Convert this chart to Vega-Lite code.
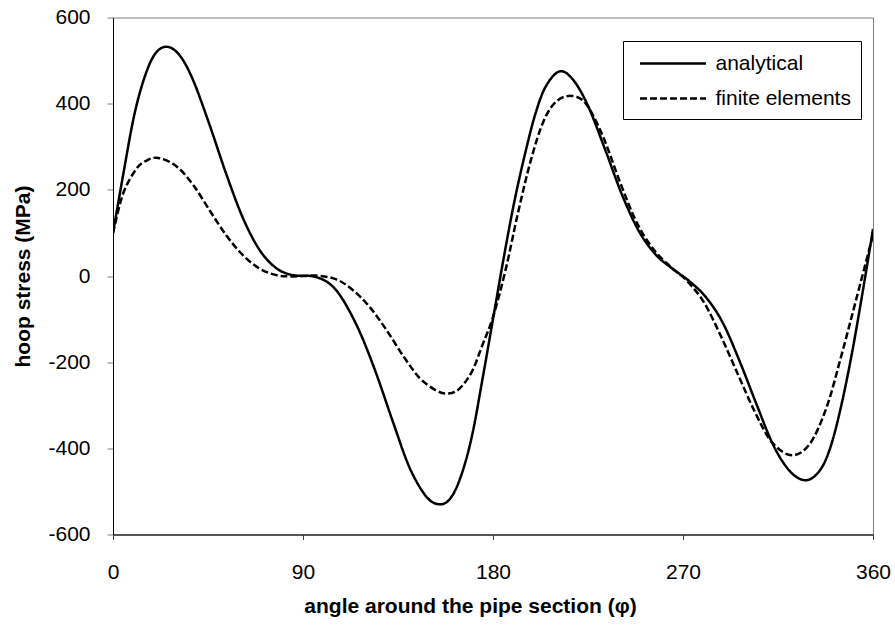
{
  "$schema": "https://vega.github.io/schema/vega-lite/v6.json",
  "width": 760,
  "height": 517,
  "autosize": "none",
  "padding": {"left": 113, "top": 17.5, "right": 22, "bottom": 91.5},
  "background": "white",
  "config": {
    "font": "Liberation Sans",
    "view": {"stroke": "#808080", "strokeWidth": 1}
  },
  "data": {
    "values": [
      {"angle": 0, "stress": 100, "series": "analytical"},
      {"angle": 5, "stress": 240, "series": "analytical"},
      {"angle": 10, "stress": 372, "series": "analytical"},
      {"angle": 15, "stress": 462, "series": "analytical"},
      {"angle": 20, "stress": 516, "series": "analytical"},
      {"angle": 25.6, "stress": 532, "series": "analytical"},
      {"angle": 31.6, "stress": 512, "series": "analytical"},
      {"angle": 37.9, "stress": 455, "series": "analytical"},
      {"angle": 45.8, "stress": 350, "series": "analytical"},
      {"angle": 53.7, "stress": 236, "series": "analytical"},
      {"angle": 61.6, "stress": 134, "series": "analytical"},
      {"angle": 69.5, "stress": 60, "series": "analytical"},
      {"angle": 77.4, "stress": 18, "series": "analytical"},
      {"angle": 85.3, "stress": 2, "series": "analytical"},
      {"angle": 95, "stress": -1, "series": "analytical"},
      {"angle": 102.6, "stress": -18, "series": "analytical"},
      {"angle": 108.9, "stress": -55, "series": "analytical"},
      {"angle": 116.9, "stress": -130, "series": "analytical"},
      {"angle": 124.8, "stress": -228, "series": "analytical"},
      {"angle": 132.7, "stress": -340, "series": "analytical"},
      {"angle": 140.5, "stress": -445, "series": "analytical"},
      {"angle": 148.4, "stress": -512, "series": "analytical"},
      {"angle": 154.7, "stress": -530, "series": "analytical"},
      {"angle": 160, "stress": -515, "series": "analytical"},
      {"angle": 165, "stress": -462, "series": "analytical"},
      {"angle": 170, "stress": -372, "series": "analytical"},
      {"angle": 175, "stress": -240, "series": "analytical"},
      {"angle": 180, "stress": -100, "series": "analytical"},
      {"angle": 185, "stress": 40, "series": "analytical"},
      {"angle": 190, "stress": 170, "series": "analytical"},
      {"angle": 195, "stress": 280, "series": "analytical"},
      {"angle": 200, "stress": 375, "series": "analytical"},
      {"angle": 205, "stress": 440, "series": "analytical"},
      {"angle": 211.6, "stress": 475, "series": "analytical"},
      {"angle": 218, "stress": 455, "series": "analytical"},
      {"angle": 225, "stress": 395, "series": "analytical"},
      {"angle": 233, "stress": 295, "series": "analytical"},
      {"angle": 241, "stress": 190, "series": "analytical"},
      {"angle": 249, "stress": 105, "series": "analytical"},
      {"angle": 257, "stress": 50, "series": "analytical"},
      {"angle": 265, "stress": 17, "series": "analytical"},
      {"angle": 273, "stress": -12, "series": "analytical"},
      {"angle": 281, "stress": -50, "series": "analytical"},
      {"angle": 289, "stress": -110, "series": "analytical"},
      {"angle": 297, "stress": -200, "series": "analytical"},
      {"angle": 305, "stress": -300, "series": "analytical"},
      {"angle": 313, "stress": -395, "series": "analytical"},
      {"angle": 321, "stress": -455, "series": "analytical"},
      {"angle": 328.5, "stress": -474, "series": "analytical"},
      {"angle": 335, "stress": -450, "series": "analytical"},
      {"angle": 340, "stress": -395, "series": "analytical"},
      {"angle": 345, "stress": -300, "series": "analytical"},
      {"angle": 350, "stress": -180, "series": "analytical"},
      {"angle": 355, "stress": -40, "series": "analytical"},
      {"angle": 360, "stress": 109, "series": "analytical"},

      {"angle": 0, "stress": 99, "series": "finite elements"},
      {"angle": 4.7, "stress": 190, "series": "finite elements"},
      {"angle": 11.1, "stress": 249, "series": "finite elements"},
      {"angle": 16, "stress": 268, "series": "finite elements"},
      {"angle": 21.5, "stress": 274, "series": "finite elements"},
      {"angle": 30, "stress": 255, "series": "finite elements"},
      {"angle": 37.9, "stress": 212, "series": "finite elements"},
      {"angle": 45.8, "stress": 152, "series": "finite elements"},
      {"angle": 53.7, "stress": 94, "series": "finite elements"},
      {"angle": 61.6, "stress": 48, "series": "finite elements"},
      {"angle": 69.5, "stress": 17, "series": "finite elements"},
      {"angle": 77.4, "stress": 2, "series": "finite elements"},
      {"angle": 85.3, "stress": -1, "series": "finite elements"},
      {"angle": 96.3, "stress": 1, "series": "finite elements"},
      {"angle": 105.8, "stress": -8, "series": "finite elements"},
      {"angle": 113.7, "stress": -33, "series": "finite elements"},
      {"angle": 121.6, "stress": -72, "series": "finite elements"},
      {"angle": 129.5, "stress": -125, "series": "finite elements"},
      {"angle": 137.4, "stress": -185, "series": "finite elements"},
      {"angle": 145.3, "stress": -237, "series": "finite elements"},
      {"angle": 153.2, "stress": -266, "series": "finite elements"},
      {"angle": 158.7, "stress": -273, "series": "finite elements"},
      {"angle": 164, "stress": -262, "series": "finite elements"},
      {"angle": 170, "stress": -222, "series": "finite elements"},
      {"angle": 175, "stress": -160, "series": "finite elements"},
      {"angle": 180, "stress": -95, "series": "finite elements"},
      {"angle": 186, "stress": 15, "series": "finite elements"},
      {"angle": 192, "stress": 150, "series": "finite elements"},
      {"angle": 198, "stress": 270, "series": "finite elements"},
      {"angle": 204, "stress": 360, "series": "finite elements"},
      {"angle": 210, "stress": 405, "series": "finite elements"},
      {"angle": 217.1, "stress": 418, "series": "finite elements"},
      {"angle": 224, "stress": 400, "series": "finite elements"},
      {"angle": 232, "stress": 325, "series": "finite elements"},
      {"angle": 240, "stress": 220, "series": "finite elements"},
      {"angle": 248, "stress": 125, "series": "finite elements"},
      {"angle": 256, "stress": 62, "series": "finite elements"},
      {"angle": 264, "stress": 22, "series": "finite elements"},
      {"angle": 272, "stress": -12, "series": "finite elements"},
      {"angle": 280, "stress": -62, "series": "finite elements"},
      {"angle": 288, "stress": -140, "series": "finite elements"},
      {"angle": 296, "stress": -228, "series": "finite elements"},
      {"angle": 304, "stress": -315, "series": "finite elements"},
      {"angle": 312, "stress": -385, "series": "finite elements"},
      {"angle": 321.4, "stress": -416, "series": "finite elements"},
      {"angle": 330, "stress": -390, "series": "finite elements"},
      {"angle": 338, "stress": -305, "series": "finite elements"},
      {"angle": 345, "stress": -185, "series": "finite elements"},
      {"angle": 352, "stress": -55, "series": "finite elements"},
      {"angle": 360, "stress": 95, "series": "finite elements"}
    ]
  },
  "mark": {"type": "line", "interpolate": "cardinal", "strokeWidth": 2.5, "color": "black", "clip": true},
  "encoding": {
    "x": {
      "field": "angle",
      "type": "quantitative",
      "scale": {"domain": [0, 360], "nice": false, "zero": false},
      "axis": {
        "values": [0, 90, 180, 270, 360],
        "labelExpr": "'' + datum.value",
        "grid": false,
        "domainColor": "#333333",
        "domainWidth": 1.5,
        "tickColor": "#404040",
        "tickSize": 5,
        "labelFontSize": 21,
        "labelColor": "black",
        "labelPadding": 22.4,
        "labelFlush": false,
        "title": "angle around the pipe section (φ)",
        "titleFontSize": 21,
        "titleFontWeight": "bold",
        "titleColor": "black",
        "titleX": 357,
        "titleY": 78,
        "titleAlign": "center",
        "titleBaseline": "alphabetic"
      }
    },
    "y": {
      "field": "stress",
      "type": "quantitative",
      "scale": {"domain": [-600, 600], "nice": false},
      "axis": {
        "values": [-600, -400, -200, 0, 200, 400, 600],
        "labelExpr": "'' + datum.value",
        "grid": false,
        "domainColor": "black",
        "domainWidth": 1,
        "tickColor": "#808080",
        "tickSize": 6,
        "labelFontSize": 21,
        "labelColor": "black",
        "labelPadding": 17,
        "labelFlush": false,
        "title": "hoop stress (MPa)",
        "titleFontSize": 21,
        "titleFontWeight": "bold",
        "titleColor": "black",
        "titleX": -90,
        "titleY": 258.5,
        "titleAngle": 270,
        "titleAlign": "center",
        "titleBaseline": "middle"
      }
    },
    "strokeDash": {
      "field": "series",
      "type": "nominal",
      "scale": {"domain": ["analytical", "finite elements"], "range": [[1, 0], [7, 3]]},
      "legend": {
        "title": null,
        "orient": "none",
        "legendX": 510,
        "legendY": 23.5,
        "padding": 10,
        "strokeColor": "black",
        "fillColor": "white",
        "symbolType": "M-3,0H3",
        "symbolSize": 484,
        "symbolStrokeWidth": 2.5,
        "symbolStrokeColor": "black",
        "symbolOffset": 27.5,
        "labelOffset": 30,
        "labelFontSize": 21,
        "labelColor": "black",
        "labelLimit": 300,
        "rowPadding": 12
      }
    }
  }
}
